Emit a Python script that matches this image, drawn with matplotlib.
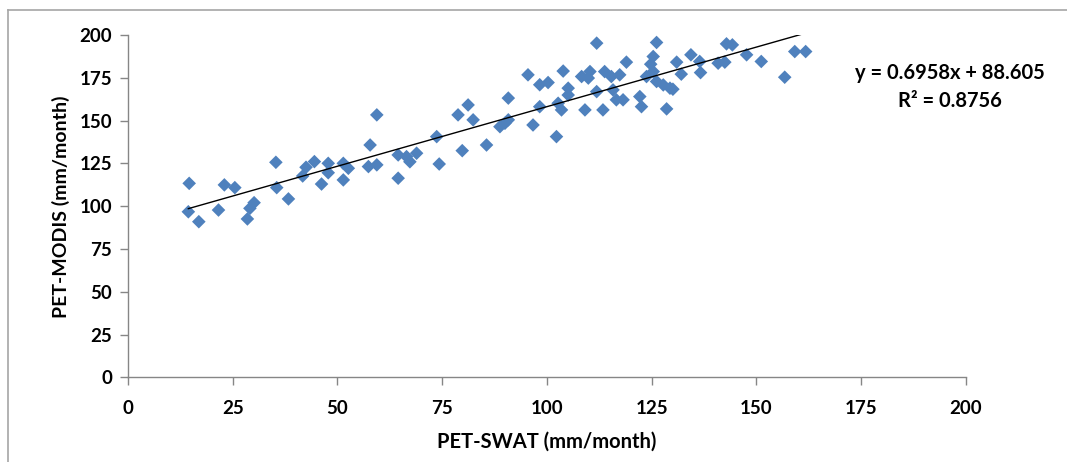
import matplotlib
matplotlib.use("Agg")
import matplotlib.pyplot as plt
from matplotlib.lines import Line2D

# PET values (mm/month)
pet_swat = [14.6, 14.4, 16.9, 21.6, 23.0, 25.5, 28.5, 29.1, 30.1, 35.3,
            35.5, 38.3, 41.7, 42.5, 44.5, 46.2, 47.8, 47.8, 51.4, 51.4,
            52.6, 57.4, 57.8, 59.4, 59.4, 64.5, 64.5, 66.5, 67.3, 68.9,
            73.7, 74.3, 78.8, 79.8, 81.2, 82.4, 85.6, 88.8, 90.0, 90.8,
            90.8, 95.5, 96.7, 98.3, 98.3, 100.3, 102.3, 102.7, 103.5, 103.9,
            105.1, 105.1, 108.3, 109.1, 109.9, 110.3, 111.9, 111.9, 113.4, 113.8,
            115.4, 115.8, 116.6, 117.4, 118.2, 119.0, 122.2, 122.6, 123.8, 124.8,
            125.4, 125.4, 126.2, 126.2, 127.8, 128.6, 129.4, 130.1, 131.0, 132.1,
            134.4, 136.5, 136.7, 140.9, 142.5, 142.9, 144.3, 147.7, 151.2, 156.8,
            159.2, 161.8]
pet_modis = [113.4, 96.8, 91.0, 97.8, 112.5, 110.9, 92.6, 98.8, 102.1, 125.7,
             110.9, 104.3, 117.7, 122.8, 126.1, 113.0, 125.1, 119.6, 125.1, 115.4,
             122.2, 123.2, 135.8, 124.2, 153.4, 116.4, 130.0, 129.0, 126.0, 131.0,
             140.7, 124.7, 153.4, 132.5, 159.2, 150.5, 135.8, 146.5, 148.5, 150.5,
             163.2, 176.8, 147.5, 158.2, 171.0, 172.3, 140.7, 160.2, 156.3, 179.0,
             169.0, 165.0, 175.8, 156.3, 174.9, 178.7, 195.3, 167.0, 156.3, 178.7,
             175.8, 168.0, 162.2, 176.8, 162.2, 184.2, 164.1, 158.2, 175.8, 183.0,
             187.5, 178.7, 195.7, 172.9, 170.9, 156.9, 169.0, 168.4, 184.2, 177.2,
             188.5, 184.6, 178.1, 183.6, 184.2, 194.9, 194.3, 188.5, 184.6, 175.4,
             190.4, 190.4]

slope = 0.6958
intercept = 88.605
r2 = 0.8756
ticks = [0, 25, 50, 75, 100, 125, 150, 175, 200]

plt.rcParams['font.family'] = ['Lato', 'DejaVu Sans']
grey = '#868686'

fig = plt.figure(figsize=(10.67, 4.62), dpi=100)
ax = fig.add_axes([0.12, 0.183, 0.785, 0.741])

ax.scatter(pet_swat, pet_modis, marker='D', s=48, color='#4F81BD',
           edgecolors='none', zorder=3)

x0, x1 = min(pet_swat), max(pet_swat)
ax.plot([x0, x1], [slope * x0 + intercept, slope * x1 + intercept],
        color='black', lw=1.0, zorder=4)

ax.set_xlim(0, 200)
ax.set_ylim(0, 200)
ax.set_xticks(ticks)
ax.set_yticks(ticks)
ax.tick_params(direction='out', length=5.5, width=1, color=grey,
               labelsize=13.5, pad=6)
ax.tick_params(axis='x', pad=11)
for lab in ax.get_xticklabels() + ax.get_yticklabels():
    lab.set_fontweight('bold')

for side in ['top', 'right']:
    ax.spines[side].set_visible(False)
for side in ['left', 'bottom']:
    ax.spines[side].set_color(grey)
    ax.spines[side].set_linewidth(1)

ax.set_xlabel('PET-SWAT (mm/month)', fontsize=14.5, fontweight='bold', labelpad=10)
ax.set_ylabel('PET-MODIS (mm/month)', fontsize=14, fontweight='bold', labelpad=7)

fig.text(0.890, 0.842, 'y = %.4fx + %.3f' % (slope, intercept), ha='center',
         va='center', fontsize=14.5, fontweight='bold')
fig.text(0.890, 0.781, 'R² = %.4f' % r2, ha='center', va='center',
         fontsize=14.5, fontweight='bold')

# outer chart border
fig.add_artist(Line2D([8 / 1067, 8 / 1067], [0, 1 - 10 / 462],
                      color='#a6a6a6', lw=1.2))
fig.add_artist(Line2D([8 / 1067, 1], [1 - 10 / 462, 1 - 10 / 462],
                      color='#a6a6a6', lw=1.2))

fig.savefig('out.png', dpi=100)
